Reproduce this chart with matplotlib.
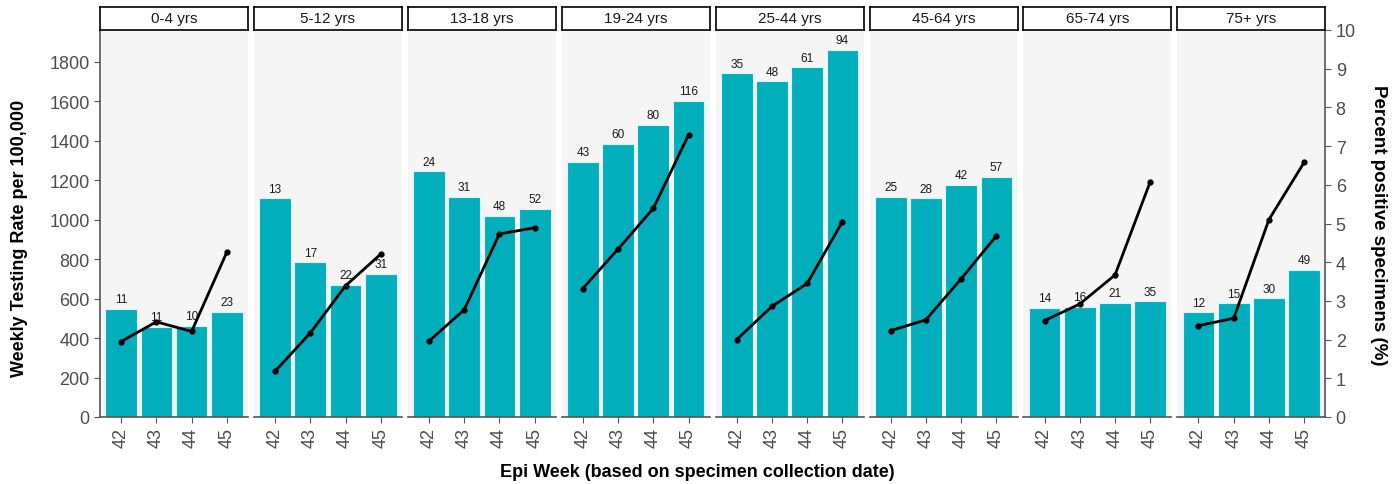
"""Weekly testing rate (bars) and percent positive (line) by age group."""

import matplotlib.pyplot as plt

plt.rcParams['font.family'] = ['Liberation Sans', 'DejaVu Sans']

groups = ['0-4 yrs', '5-12 yrs', '13-18 yrs', '19-24 yrs',
          '25-44 yrs', '45-64 yrs', '65-74 yrs', '75+ yrs']
weeks = ['42', '43', '44', '45']

# weekly testing rate per 100,000 (bars)
rates = [
    [548, 458, 463, 534],
    [1110, 784, 669, 725],
    [1246, 1116, 1019, 1055],
    [1295, 1384, 1482, 1604],
    [1743, 1702, 1773, 1861],
    [1117, 1110, 1176, 1217],
    [554, 558, 578, 587],
    [531, 577, 602, 745],
]
# percent positive specimens (line)
pct_pos = [
    [1.95, 2.46, 2.21, 4.26],
    [1.18, 2.17, 3.39, 4.21],
    [1.96, 2.77, 4.73, 4.89],
    [3.32, 4.34, 5.39, 7.29],
    [2.00, 2.86, 3.45, 5.05],
    [2.23, 2.51, 3.57, 4.68],
    [2.49, 2.92, 3.67, 6.08],
    [2.36, 2.55, 5.10, 6.58],
]
# positive counts shown above bars
counts = [
    [11, 11, 10, 23],
    [13, 17, 22, 31],
    [24, 31, 48, 52],
    [43, 60, 80, 116],
    [35, 48, 61, 94],
    [25, 28, 42, 57],
    [14, 16, 21, 35],
    [12, 15, 30, 49],
]

W, H = 1394, 485
bar_col = '#00AFBB'
tick_col = '#4D4D4D'
axis_col = '#555555'

fig = plt.figure(figsize=(W / 100, H / 100), dpi=100)

panel_w = 148
step = 153.9
bottom_px, top_px = 418, 31

for i, g in enumerate(groups):
    x0 = 100 + i * step
    ax = fig.add_axes([x0 / W, 1 - bottom_px / H, panel_w / W, (bottom_px - top_px) / H])
    ax.set_facecolor('#F5F5F5')
    xs = range(len(weeks))
    ax.bar(xs, rates[i], width=0.9, color=bar_col, edgecolor='#DDF4F6', linewidth=0.8)
    for j, (r, c) in enumerate(zip(rates[i], counts[i])):
        ax.text(j, r + 18, str(c), ha='center', va='bottom', fontsize=8.5, color='#1A1A1A')
    ax.set_xlim(-0.6, 3.6)
    ax.set_ylim(0, 1962)
    ax.set_xticks(list(xs))
    ax.set_xticklabels(weeks, rotation=90, fontsize=13, color=tick_col)
    ax.tick_params(axis='x', length=4, color=axis_col, pad=3)
    for s in ['top', 'right', 'left']:
        ax.spines[s].set_visible(False)
    ax.spines['bottom'].set_color(axis_col)
    ax.spines['bottom'].set_linewidth(1.2)
    if i == 0:
        ax.spines['left'].set_visible(True)
        ax.spines['left'].set_color(axis_col)
        ax.spines['left'].set_linewidth(1.2)
        ax.set_yticks(range(0, 1801, 200))
        ax.tick_params(axis='y', labelsize=13, labelcolor=tick_col, length=4, color=axis_col)
    else:
        ax.set_yticks([])

    ax2 = ax.twinx()
    ax2.plot(xs, pct_pos[i], '-o', color='black', linewidth=2, markersize=3.5)
    ax2.set_ylim(0, 10)
    for s in ['top', 'left', 'bottom', 'right']:
        ax2.spines[s].set_visible(False)
    if i == len(groups) - 1:
        ax2.spines['right'].set_visible(True)
        ax2.spines['right'].set_color(axis_col)
        ax2.spines['right'].set_linewidth(1.2)
        ax2.set_yticks(range(0, 11))
        ax2.tick_params(axis='y', labelsize=13, labelcolor=tick_col, length=4, color=axis_col)
    else:
        ax2.set_yticks([])

    # facet strip
    sax = fig.add_axes([x0 / W, 1 - top_px / H, panel_w / W, 23 / H])
    sax.set_facecolor('white')
    sax.set_xticks([])
    sax.set_yticks([])
    for s in sax.spines.values():
        s.set_color('black')
        s.set_linewidth(1.2)
    sax.text(0.5, 0.5, g, ha='center', va='center', fontsize=11, color='#1A1A1A',
             transform=sax.transAxes)

fig.text(20 / W, 1 - 238 / H, 'Weekly Testing Rate per 100,000', rotation=90,
         ha='center', va='center', fontsize=13, fontweight='bold')
fig.text(1379 / W, 1 - 225 / H, 'Percent positive specimens (%)', rotation=270,
         ha='center', va='center', fontsize=13.5, fontweight='bold')
fig.text(697 / W, 1 - 473 / H, 'Epi Week (based on specimen collection date)',
         ha='center', va='center', fontsize=13, fontweight='bold')

fig.savefig('out.png', dpi=100)
plt.close(fig)
